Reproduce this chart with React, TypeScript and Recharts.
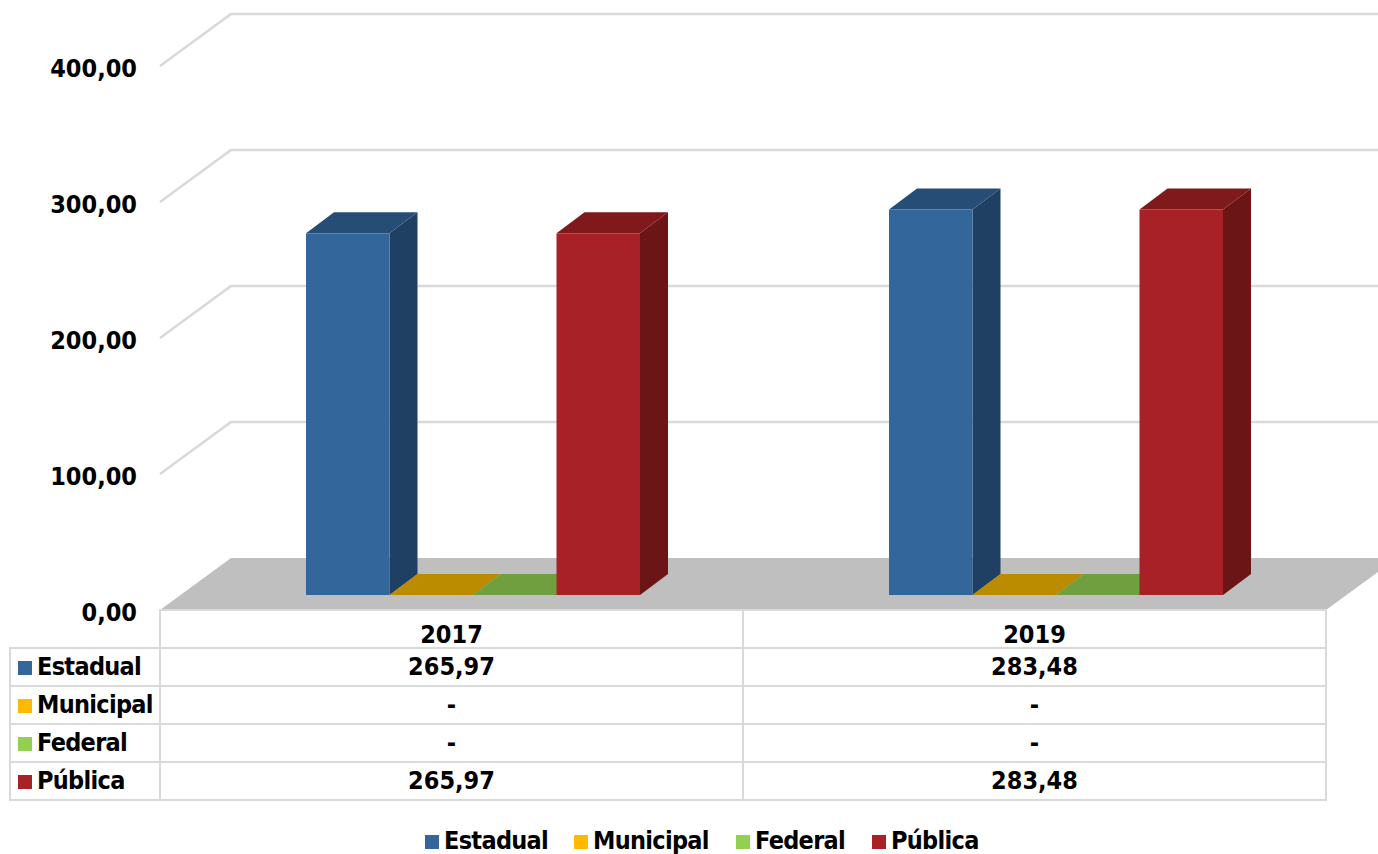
import React from "react";
import { BarChart, Bar, XAxis, YAxis, CartesianGrid } from "recharts";

const categories = ["2017", "2019"];
const estadual = [265.97, 283.48];
const municipal = [0, 0];
const federal = [0, 0];
const publica = [265.97, 283.48];
const yTicks = [0, 100, 200, 300, 400];

const seriesNames = ["Estadual", "Municipal", "Federal", "Pública"];
const seriesValues = [estadual, municipal, federal, publica];
const seriesColors = ["#33669A", "#FFB900", "#92D14F", "#A72126"];
const frontColors = ["#33669A", "#BC8C00", "#709F3F", "#A72126"];
const sideColors = ["#1F3F63", "#7D5D00", "#4A6A2A", "#6B1517"];
const topColors = ["#264D75", "#BC8C00", "#709F3F", "#80191C"];

const data = categories.map((name, i) => ({
  name,
  estadual: estadual[i],
  municipal: municipal[i],
  federal: federal[i],
  publica: publica[i],
}));

const FONT = "'DejaVu Sans Condensed', 'DejaVu Sans', sans-serif";
const GRID = "#D9D9D9";
const LABEL_SPACING = -0.7;

const formatValue = (v: number) => (v === 0 ? "-" : v.toFixed(2).replace(".", ","));

// bars stand in the middle of the floor, behind the front edge
const makeBar = (index: number) => (props: any) => {
  const { x, y, width, height } = props;
  const left = x + 21;
  const right = left + width;
  const top = y - 15;
  const bottom = top + height;
  const dx = 28;
  const dy = 21;
  return (
    <g>
      {height > 0 && (
        <polygon
          points={`${right},${top} ${right + dx},${top - dy} ${right + dx},${bottom - dy} ${right},${bottom}`}
          fill={sideColors[index]}
        />
      )}
      <polygon
        points={`${left},${top} ${left + dx},${top - dy} ${right + dx},${top - dy} ${right},${top}`}
        fill={topColors[index]}
      />
      {height > 0 && <rect x={left} y={top} width={width} height={height} fill={frontColors[index]} />}
    </g>
  );
};

// each grid line goes back along the side wall and then across the back wall,
// the one at zero is the grey floor
const WallLine = (props: any) => {
  const { x1, y1, x2, y, height } = props;
  const depthX = 71;
  const depthY = 52;
  if (Math.abs(y1 - (y + height)) < 1) {
    return (
      <polygon
        key="floor"
        points={`${x1},${y1} ${x1 + depthX},${y1 - depthY} ${x2 + depthX},${y1 - depthY} ${x2},${y1}`}
        fill="#BFBFBF"
      />
    );
  }
  return (
    <polyline
      key={y1}
      points={`${x1},${y1} ${x1 + depthX},${y1 - depthY} ${x2 + depthX},${y1 - depthY}`}
      fill="none"
      stroke={GRID}
      strokeWidth={2.5}
    />
  );
};

const ValueTick = (props: any) => {
  const { y, payload } = props;
  return (
    <text x={137} y={y + 11} textAnchor="end" fontFamily={FONT} fontWeight={700} fontSize={25} fill="#000">
      {payload.value.toFixed(2).replace(".", ",")}
    </text>
  );
};

const cellStyle: React.CSSProperties = {
  border: `2px solid ${GRID}`,
  padding: 0,
  textAlign: "center",
  height: 36,
};

const Swatch = ({ color }: { color: string }) => (
  <span style={{ display: "inline-block", width: 14, height: 14, background: color }} />
);

const DataTable = () => (
  <table
    style={{
      position: "absolute",
      left: 9,
      top: 609,
      width: 1317,
      tableLayout: "fixed",
      borderCollapse: "collapse",
      fontFamily: FONT,
      fontWeight: 700,
      fontSize: 25,
      lineHeight: "36px",
      color: "#000",
    }}
  >
    <colgroup>
      <col style={{ width: 150 }} />
      <col style={{ width: 583 }} />
      <col style={{ width: 583 }} />
    </colgroup>
    <tbody>
      <tr>
        <td style={{ ...cellStyle, border: "none", borderBottom: `2px solid ${GRID}` }} />
        {categories.map((c) => (
          <td key={c} style={cellStyle}>
            <span style={{ position: "relative", top: 6 }}>{c}</span>
          </td>
        ))}
      </tr>
      {seriesNames.map((name, i) => (
        <tr key={name}>
          <td style={{ ...cellStyle, textAlign: "left", whiteSpace: "nowrap", paddingLeft: 7 }}>
            <Swatch color={seriesColors[i]} />
            <span style={{ marginLeft: 5, letterSpacing: LABEL_SPACING }}>{name}</span>
          </td>
          {seriesValues[i].map((v, j) => (
            <td key={j} style={cellStyle}>{formatValue(v)}</td>
          ))}
        </tr>
      ))}
    </tbody>
  </table>
);

const legendLeft = [425, 574, 736, 872];

const ChartLegend = () => (
  <div style={{ position: "absolute", left: 0, top: 823, fontFamily: FONT, fontWeight: 700, fontSize: 25, color: "#000" }}>
    {seriesNames.map((name, i) => (
      <div key={name} style={{ position: "absolute", left: legendLeft[i], top: 0, whiteSpace: "nowrap", lineHeight: "36px" }}>
        <Swatch color={seriesColors[i]} />
        <span style={{ marginLeft: 5, letterSpacing: LABEL_SPACING }}>{name}</span>
      </div>
    ))}
  </div>
);

export default function App() {
  return (
    <div style={{ position: "absolute", left: 0, top: 0, width: 1378, height: 854, overflow: "hidden", background: "#fff" }}>
      <BarChart
        width={1378}
        height={854}
        data={data}
        margin={{ top: 66, right: 52, bottom: 244, left: 0 }}
        barSize={83.5}
        barGap={0}
      >
        <CartesianGrid vertical={false} horizontal={WallLine} horizontalValues={yTicks} />
        <XAxis dataKey="name" hide />
        <YAxis width={160} domain={[0, 400]} ticks={yTicks} axisLine={false} tickLine={false} tick={ValueTick} interval={0} />
        <Bar dataKey="estadual" isAnimationActive={false} shape={makeBar(0)} />
        <Bar dataKey="municipal" isAnimationActive={false} shape={makeBar(1)} />
        <Bar dataKey="federal" isAnimationActive={false} shape={makeBar(2)} />
        <Bar dataKey="publica" isAnimationActive={false} shape={makeBar(3)} />
      </BarChart>
      <DataTable />
      <ChartLegend />
    </div>
  );
}
